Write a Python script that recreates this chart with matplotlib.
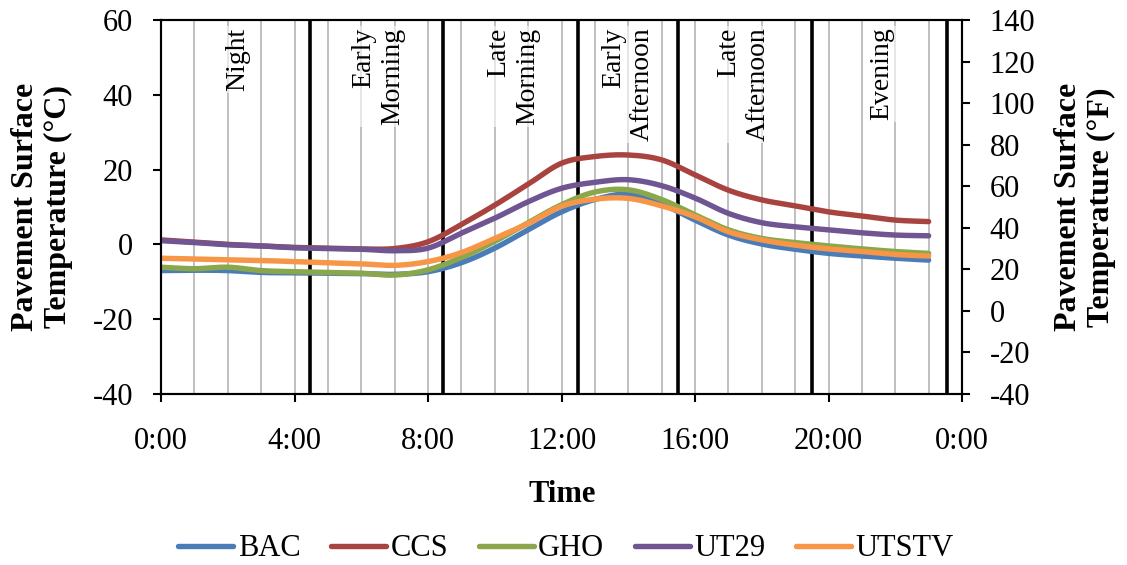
import numpy as np
import matplotlib
matplotlib.use("Agg")
import matplotlib.pyplot as plt

# Hourly pavement surface temperatures (deg C), 0:00 .. 23:00
hours = list(range(24))
bac = [-7.0, -6.9, -7.0, -7.5, -7.6, -7.7, -7.8, -8.0, -7.3, -4.9, -1.0, 3.9,
       8.7, 12.0, 13.4, 10.8, 6.5, 2.5, 0.1, -1.3, -2.4, -3.1, -3.7, -4.2]
ccs = [1.2, 0.6, 0.0, -0.4, -0.8, -1.0, -1.2, -1.1, 0.7, 5.3, 10.5, 16.1,
       21.7, 23.5, 23.9, 22.6, 18.6, 14.5, 11.9, 10.3, 8.7, 7.6, 6.5, 6.1]
gho = [-6.1, -6.5, -6.1, -7.0, -7.3, -7.5, -7.7, -8.2, -6.8, -3.5, 0.8, 5.8,
       10.6, 14.0, 14.6, 12.0, 7.9, 3.9, 1.6, 0.5, -0.4, -1.2, -1.9, -2.4]
ut29 = [1.0, 0.5, -0.1, -0.4, -0.9, -1.1, -1.3, -1.7, -1.0, 3.0, 7.0, 11.4,
        15.0, 16.6, 17.3, 15.7, 12.4, 8.3, 5.8, 4.7, 3.9, 3.1, 2.5, 2.3]
utstv = [-3.7, -3.9, -4.1, -4.3, -4.6, -4.9, -5.2, -5.6, -4.6, -2.2, 1.6, 5.6,
         10.2, 12.1, 12.3, 10.3, 7.4, 3.4, 1.2, -0.2, -1.2, -1.9, -2.7, -3.1]

series_names = ["BAC", "CCS", "GHO", "UT29", "UTSTV"]
series_values = [bac, ccs, gho, ut29, utstv]
series_colors = ["#4a7db8", "#a9433f", "#8aa84b", "#6f5591", "#f79646"]

time_ticks = [0, 4, 8, 12, 16, 20, 24]
time_labels = ["0:00", "4:00", "8:00", "12:00", "16:00", "20:00", "0:00"]
celsius_ticks = [-40, -20, 0, 20, 40, 60]
fahrenheit_ticks = [-40, -20, 0, 20, 40, 60, 80, 100, 120, 140]

period_names = ["Night", "Early\nMorning", "Late\nMorning",
                "Early\nAfternoon", "Late\nAfternoon", "Evening"]
period_label_x = [2.3, 6.5, 10.55, 14.0, 17.45, 21.6]
period_bounds = [4.45, 8.45, 12.5, 15.5, 19.5, 23.55]
hour_grid = list(range(1, 24))

plt.rcParams["font.family"] = ["Liberation Serif", "DejaVu Serif"]
plt.rcParams["axes.unicode_minus"] = False


def smooth_curve(x, y, steps=24):
    """Bezier smoothing through every point (spreadsheet-style smoothed line)."""
    x = np.asarray(x, float)
    y = np.asarray(y, float)
    px = np.concatenate([[x[0]], x, [x[-1]]])
    py = np.concatenate([[y[0]], y, [y[-1]]])
    xs, ys = [], []
    t = np.linspace(0, 1, steps)
    for i in range(1, len(px) - 2):
        p0 = np.array([px[i], py[i]])
        p3 = np.array([px[i + 1], py[i + 1]])
        c1 = p0 + (np.array([px[i + 1], py[i + 1]]) - np.array([px[i - 1], py[i - 1]])) / 6
        c2 = p3 - (np.array([px[i + 2], py[i + 2]]) - np.array([px[i], py[i]])) / 6
        b = ((1 - t) ** 3)[:, None] * p0 + (3 * (1 - t) ** 2 * t)[:, None] * c1 \
            + (3 * (1 - t) * t ** 2)[:, None] * c2 + (t ** 3)[:, None] * p3
        if i > 1:
            b = b[1:]
        xs.append(b[:, 0])
        ys.append(b[:, 1])
    return np.concatenate(xs), np.concatenate(ys)


fig = plt.figure(figsize=(11.27, 5.65), dpi=100)
ax = fig.add_axes([161 / 1127, 1 - 394 / 565, (962 - 161) / 1127, (394 - 20) / 565])

for h in hour_grid:
    ax.axvline(h, color="#bfbfbf", lw=1.4, zorder=1)
for b in period_bounds:
    ax.axvline(b, color="black", lw=2.6, zorder=2)

for name, xpos in zip(period_names, period_label_x):
    ax.text(xpos, 58.0, name, rotation=90, ha="center", va="top",
            multialignment="right", fontsize=20, zorder=3,
            bbox=dict(facecolor="white", edgecolor="none", alpha=0.6, pad=1.5))

for name, vals, col in zip(series_names, series_values, series_colors):
    sx, sy = smooth_curve(hours, vals)
    ax.plot(sx, sy, color=col, lw=3.9, solid_capstyle="round", label=name, zorder=4)

ax.set_xlim(0, 24)
ax.set_ylim(-40, 60)
ax.set_xticks(time_ticks)
ax.set_xticklabels(time_labels)
ax.set_yticks(celsius_ticks)
ax.tick_params(axis="x", direction="out", length=6, width=1.5, pad=18, labelsize=22)
ax.tick_params(axis="y", direction="out", length=6, width=1.5, pad=14, labelsize=22)
for sp in ax.spines.values():
    sp.set_linewidth(1.5)
    sp.set_color("black")

ax2 = ax.twinx()
ax2.set_ylim(-40, 140)
ax2.set_yticks(fahrenheit_ticks)
ax2.tick_params(axis="y", direction="out", length=6, width=1.5, pad=14, labelsize=22)
for sp in ax2.spines.values():
    sp.set_linewidth(1.5)
    sp.set_color("black")

fig.text(42 / 1127, 1 - 207 / 565, "Pavement Surface\nTemperature (\u00b0C)",
         rotation=90, ha="center", va="center", fontsize=23, fontweight="bold")
fig.text(1085 / 1127, 1 - 207 / 565, "Pavement Surface\nTemperature (\u00b0F)",
         rotation=90, ha="center", va="center", fontsize=23, fontweight="bold")
fig.text(562 / 1127, 1 - 495 / 565, "Time", ha="center", va="center",
         fontsize=22, fontweight="bold")

handles, labels = ax.get_legend_handles_labels()
fig.legend(handles, labels, loc="center", bbox_to_anchor=(566 / 1127, 1 - 549 / 565),
           ncol=5, frameon=False, fontsize=22, handlelength=1.8,
           handletextpad=0.15, columnspacing=1.0, borderpad=0)

fig.savefig("out.png", dpi=100)
